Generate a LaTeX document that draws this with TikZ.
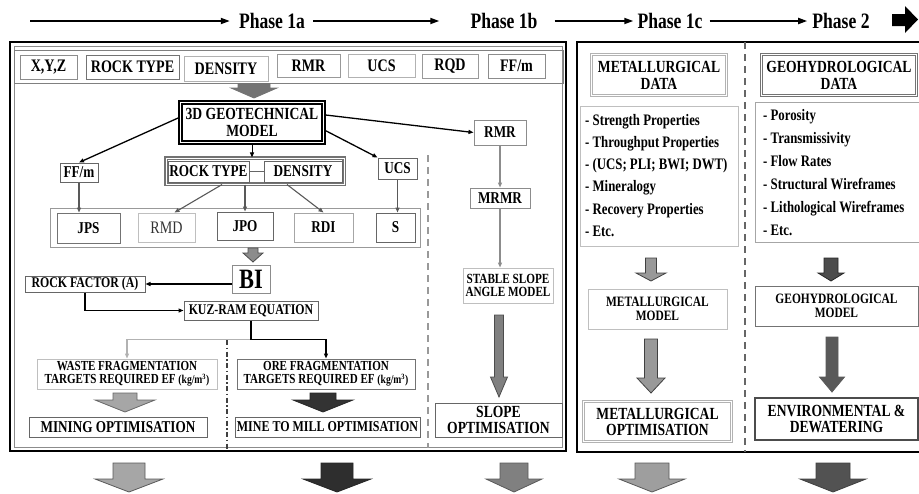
\documentclass[tikz,border=0pt]{standalone}
\usepackage{fontspec}
\setmainfont{Liberation Serif}[FakeStretch=0.8]
\usetikzlibrary{calc,arrows.meta}
\newcommand{\fs}[2]{\fontsize{#1}{#2}\selectfont}
\newcommand{\blockarr}[8]{%
 \filldraw[fill=#7,draw=#8,line width=0.8pt] (#1-#5/2,#2) -- (#1+#5/2,#2) -- (#1+#5/2,#3) -- (#1+#6/2,#3) -- (#1,#4) -- (#1-#6/2,#3) -- (#1-#5/2,#3) -- cycle;}
\begin{document}
\begin{tikzpicture}[x=1pt,y=-1pt, font=\fs{16.5}{16.5}\bfseries,
 box/.style={draw, line width=1pt, inner sep=0pt, align=center},
 wh/.style 2 args={minimum width=#1, minimum height=#2},
 dbl/.style={double=white, double distance=1pt, line width=1.1pt},
 arr/.style={-{Triangle[length=5pt,width=4pt]}, line width=1.3pt},
 garr/.style={-{Triangle[length=5pt,width=4pt]}, line width=1.1pt, draw=black!65},
 hdr/.style={-{Triangle[length=9pt,width=6pt]}, line width=1.8pt},
 ph/.style={font=\fs{22}{22}\bfseries, inner sep=0pt},
 lst/.style={anchor=north west, align=left, inner sep=0pt},
 divd/.style={dash pattern=on 7pt off 5pt, line width=2pt}]
\useasboundingbox (0,0) rectangle (919,493);

% header
\node[ph] (p1a) at (272,21) {Phase 1a};
\node[ph] (p1b) at (504,21) {Phase 1b};
\node[ph] (p1c) at (670,21) {Phase 1c};
\node[ph] (p2) at (841,21) {Phase 2};
\coordinate (hs) at (30,21);
\draw[hdr] (hs) -- ($(p1a.west)+(-9,0)$);
\draw[hdr] ($(p1a.east)+(8,0)$) -- ($(p1b.west)+(-31,0)$);
\draw[hdr] ($(p1b.east)+(17,0)$) -- ($(p1c.west)+(-4,0)$);
\draw[hdr] ($(p1c.east)+(7,0)$) -- ($(p2.west)+(-5,0)$);
\fill (892,14) -- (905,14) -- (905,6) -- (918,19.5) -- (905,33) -- (905,26) -- (892,26) -- cycle;

% left panel
\draw[line width=2.2pt] (10,42) rectangle (566,451);
\draw[black!45, line width=0.8pt] (14,46) rectangle (562,447);

\node[box, draw=black!50, wh={549}{33}] (row1) at (289,66.5) {};
\node[box, draw=black!45, wh={57}{24}, font=\fs{17.6}{17}\bfseries] (xyz) at (48.5,67) {X,Y,Z};
\node[box, draw=black!55, wh={93}{24}, font=\fs{17.6}{17}\bfseries] (rt1) at (132.5,67) {ROCK TYPE};
\node[box, draw=black!30, wh={84}{25}, font=\fs{17.6}{17}\bfseries] (den1) at (226,68.5) {DENSITY};
\node[box, draw=black!40, wh={63}{23}, font=\fs{17.6}{17}\bfseries] (rmr1) at (308.5,65.5) {RMR};
\node[box, draw=black!30, wh={67}{23}, font=\fs{17.6}{17}\bfseries] (ucs1) at (381.5,65.5) {UCS};
\node[box, draw=black!40, wh={56}{24}, font=\fs{17.6}{17}\bfseries] (rqd1) at (450,66) {RQD};
\node[box, draw=black!45, wh={57}{24}, font=\fs{17.6}{17}\bfseries] (ff1) at (516.5,66) {FF/m};

\blockarr{254}{83.5}{88}{98}{32}{46}{black!55}{black!55}

\node[box, draw=black, line width=2.2pt, double=white, double distance=0.8pt, wh={143}{40}, font=\fs{17}{16.5}\bfseries] (geo) at (252,122.5) {3D GEOTECHNICAL\\MODEL};

\node[box, draw=black!60, wh={38}{19}] (ff2) at (79,172.5) {FF/m};
\node[box, draw=black!55, dbl, wh={178}{26}] (grp) at (255,171) {};
\node[box, draw=black!60, wh={81}{21}] (rt2) at (208.5,171.5) {ROCK TYPE};
\node[box, draw=black!60, wh={78}{21}] (den2) at (303,171.5) {DENSITY};
\draw[black!60, line width=1pt] (rt2.east) -- (den2.west);
\node[box, draw=black!60, wh={39}{21}] (ucs2) at (397.5,168.5) {UCS};
\node[box, draw=black!45, wh={52}{25}] (rmr2) at (500,132.5) {RMR};
\node[box, draw=black!45, wh={60}{20}] (mrmr) at (500,198) {MRMR};

\draw[arr] (geo.176) -- (ff2.north);
\draw[arr, line width=1pt] (geo.south) -- (geo.south |- grp.north);
\draw[arr] (geo.-6) -- (ucs2.north west);
\draw[arr] (geo.6) -- (rmr2.west);

\node[box, draw=black!40, wh={370}{39}] (row2) at (235,227.5) {};
\node[box, draw=black!55, wh={63}{30}] (jps) at (88.5,228) {JPS};
\node[box, draw=black!25, wh={57}{29}, font=\fs{17.6}{17}\mdseries, text=black!80] (rmd) at (166.5,227.5) {RMD};
\node[box, draw=black!60, wh={56}{28}] (jpo) at (245,226) {JPO};
\node[box, draw=black!35, wh={59}{29}] (rdi) at (323.5,227.5) {RDI};
\node[box, draw=black!60, wh={39}{29}] (s) at (395.5,227.5) {S};

\draw[garr] (ff2.south) -- (ff2.south |- jps.north);
\draw[garr] ($(grp.south)+(-33,0)$) -- ($(rmd.north)+(8,0)$);
\draw[garr] (grp.south -| jpo.north) -- (jpo.north);
\draw[garr] ($(grp.south)+(32,0)$) -- (rdi.north);
\draw[garr] (ucs2.south) -- (ucs2.south |- s.north);

\blockarr{253}{248}{253}{262}{10}{20}{black!45}{black!70}

\node[box, draw=black!45, wh={38}{28}, font=\fs{28}{28}\bfseries] (bi) at (251,279) {BI};
\node[box, draw=black!60, wh={120}{16}, font=\fs{14.8}{14}\bfseries] (rf) at (85,284) {ROCK FACTOR (A)};
\draw[arr] (bi.west |- rf.east) -- (rf.east);
\node[box, draw=black!60, wh={134}{19}, font=\fs{14.8}{14}\bfseries] (kuz) at (251,310.5) {KUZ-RAM EQUATION};
\draw[arr] (rf.south) |- (kuz.west);

\node[box, draw=black!25, wh={180}{30}, font=\fs{13.8}{13}\bfseries] (waste) at (127,374) {WASTE FRAGMENTATION\\TARGETS REQUIRED EF {\fs{12}{12}(kg/m\textsuperscript{3})}};
\node[box, draw=black!55, wh={178}{30}, font=\fs{13.8}{13}\bfseries] (ore) at (326,374) {ORE FRAGMENTATION\\TARGETS REQUIRED EF {\fs{12}{12}(kg/m\textsuperscript{3})}};
\coordinate (kj) at ($(kuz.south)+(0,19)$);
\draw[black!30, line width=1.1pt, -{Triangle[length=5pt,width=4pt]}] (kj) -| (waste.north);
\draw[arr, line width=1.2pt] (kuz.south) -- (kj) -| (ore.north);

\blockarr{125}{393}{400}{412}{24}{60}{black!35}{black!60}
\blockarr{323}{393}{400}{412}{26}{60}{black!80}{black!85}

\node[box, draw=black!60, wh={178}{20}] (mo) at (118,427) {MINING OPTIMISATION};
\node[box, draw=black!60, wh={185}{20}, font=\fs{15}{15}\bfseries] (m2m) at (327.5,427) {MINE TO MILL OPTIMISATION};

\draw[black!75, line width=1.5pt, dash pattern=on 5pt off 2.5pt on 1.5pt off 2.5pt] (227,340) -- (227,449);
\draw[black!40, divd] (428,155) -- (428,448);

% phase 1b
\draw[garr, draw=black!45] (rmr2.south) -- (mrmr.north);
\node[box, draw=black!25, wh={90}{35}, font=\fs{14}{13.5}\bfseries] (ssa) at (508,285.5) {STABLE SLOPE\\ANGLE MODEL};
\draw[garr, draw=black!45] (mrmr.south) -- (mrmr.south |- ssa.north);
\blockarr{499}{315}{377}{397}{9}{17}{black!50}{black!70}
\node[box, draw=black!60, wh={127}{34}, font=\fs{17}{16}\bfseries] (so) at (498.5,420) {SLOPE\\OPTIMISATION};

% right panel
\draw[line width=2.2pt] (921,42) -- (577,42) -- (577,452) -- (921,452);
\draw[black!60, divd] (745,42) -- (745,452);

\node[box, draw=black!30, dbl, line width=1.3pt, wh={135}{41}, font=\fs{17}{17}\bfseries] (md) at (659,75) {METALLURGICAL\\DATA};
\node[box, draw=black!25, wh={158}{140}] (mp) at (659,176) {};
\node[lst, font=\fs{16}{22.2}\bfseries] (mpt) at (585,114) {- Strength Properties\\- Throughput Properties\\- (UCS; PLI; BWI; DWT)\\- Mineralogy\\- Recovery Properties\\- Etc.};
\blockarr{651}{258}{273}{281}{11}{30}{black!40}{black!75}
\node[box, draw=black!25, wh={139}{40}, font=\fs{14.3}{14}\bfseries] (mm) at (657.5,309) {METALLURGICAL\\MODEL};
\blockarr{651}{339}{378}{393}{13}{28}{black!40}{black!75}
\node[box, draw=black!30, dbl, line width=1.3pt, wh={148}{40}, font=\fs{17}{16}\bfseries] (mopt) at (657.5,421.5) {METALLURGICAL\\OPTIMISATION};

\node[box, draw=black!55, dbl, line width=1.3pt, wh={155}{41}, font=\fs{17}{17}\bfseries] (gd) at (839,75) {GEOHYDROLOGICAL\\DATA};
\node[box, draw=black!35, wh={170}{140}] (gp) at (840,172) {};
\node[lst, font=\fs{16}{23}\bfseries] (gpt) at (763,109) {- Porosity\\- Transmissivity\\- Flow Rates\\- Structural Wireframes\\- Lithological Wireframes\\- Etc.};
\blockarr{831}{258}{273}{281}{14}{26}{black!70}{black!85}
\node[box, draw=black!55, wh={163}{40}, font=\fs{14.3}{14}\bfseries] (gm) at (836.5,306) {GEOHYDROLOGICAL\\MODEL};
\blockarr{832}{337}{377}{392}{12}{25}{black!65}{black!65}
\node[box, draw=black!70, line width=1.5pt, wh={163}{42}, font=\fs{17}{15.5}\bfseries] (env) at (836.5,419) {ENVIRONMENTAL \&\\DEWATERING};

% bottom arrows
\blockarr{129}{463}{479}{492}{32}{68}{black!35}{black!65}
\blockarr{337}{463}{479}{492}{32}{68}{black!82}{black!85}
\blockarr{514}{463}{479}{492}{28}{56}{black!50}{black!65}
\blockarr{652}{463}{479}{492}{34}{66}{black!38}{black!65}
\blockarr{833}{463}{479}{492}{34}{66}{black!68}{black!75}
\end{tikzpicture}
\end{document}
